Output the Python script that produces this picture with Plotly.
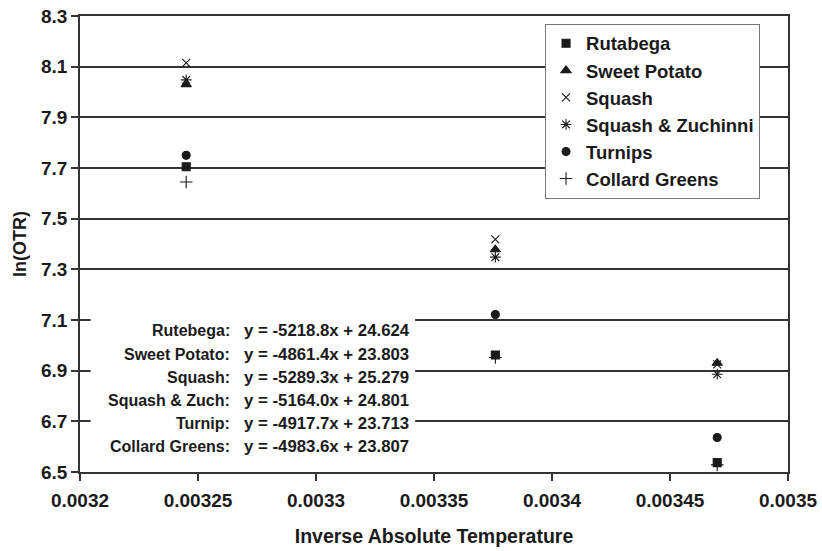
import plotly.graph_objects as go

# ---- data ----
inv_temp = [0.003245, 0.003376, 0.00347]
rutabega = [7.705, 6.962, 6.537]
sweet_potato = [8.030, 7.378, 6.930]
squash = [8.115, 7.418, 6.925]
squash_zuch = [8.048, 7.348, 6.886]
turnips = [7.750, 7.122, 6.636]
collard = [7.645, 6.952, 6.528]

series_names = ["Rutabega", "Sweet Potato", "Squash", "Squash & Zuchinni", "Turnips", "Collard Greens"]
series_vals = [rutabega, sweet_potato, squash, squash_zuch, turnips, collard]
symbols = ["square", "triangle-up", "x-thin-open", "asterisk-open", "circle", "cross-thin-open"]
sizes = [8, 9, 8, 9, 8, 9]

eq_names = ["Rutebega:", "Sweet Potato:", "Squash:", "Squash & Zuch:", "Turnip:", "Collard Greens:"]
eq_texts = ["y = -5218.8x + 24.624", "y = -4861.4x + 23.803", "y = -5289.3x + 25.279",
            "y = -5164.0x + 24.801", "y = -4917.7x + 23.713", "y = -4983.6x + 23.807"]
eq_y = [7.057, 6.964, 6.872, 6.781, 6.690, 6.599]

x_ticks = [0.0032, 0.00325, 0.0033, 0.00335, 0.0034, 0.00345, 0.0035]
x_ticklabels = ["0.0032", "0.00325", "0.0033", "0.00335", "0.0034", "0.00345", "0.0035"]
y_ticks = [6.5, 6.7, 6.9, 7.1, 7.3, 7.5, 7.7, 7.9, 8.1, 8.3]
y_ticklabels = ["6.5", "6.7", "6.9", "7.1", "7.3", "7.5", "7.7", "7.9", "8.1", "8.3"]

FONT = "Liberation Sans, Arial, Helvetica, sans-serif"
INK = "#1a1a1a"

fig = go.Figure()
for name, vals, sym, sz in zip(series_names, series_vals, symbols, sizes):
    fig.add_trace(go.Scatter(
        x=inv_temp, y=vals, mode="markers", name=name,
        marker=dict(symbol=sym, size=sz, color=INK, line=dict(color=INK, width=1.1)),
    ))

# dummy trace for overlay axis (inside ticks crossing the y axis)
fig.add_trace(go.Scatter(x=[None], y=[None], yaxis="y2", showlegend=False, hoverinfo="skip"))

# white box behind equations (covers gridlines)
fig.add_shape(type="rect", xref="x", yref="y", x0=0.0032045, x1=0.003342, y0=6.515, y1=7.125,
              fillcolor="white", line=dict(width=0), layer="between")

for nm, tx, yy in zip(eq_names, eq_texts, eq_y):
    fig.add_annotation(x=0.0032645, y=yy, xref="x", yref="y", text=nm, showarrow=False,
                       xanchor="right", yanchor="middle",
                       font=dict(family=FONT, size=16, color=INK, weight="bold"))
    fig.add_annotation(x=0.0032685, y=yy, xref="x", yref="y", text=tx, showarrow=False,
                       xanchor="left", yanchor="middle",
                       font=dict(family=FONT, size=16.8, color=INK, weight="bold"))

fig.update_layout(
    width=822, height=551,
    margin=dict(l=80, r=34, t=16, b=79),
    paper_bgcolor="white", plot_bgcolor="white",
    font=dict(family=FONT, color=INK, size=18, weight="bold"),
    showlegend=True,
    legend=dict(
        x=0.9605, y=0.983, xanchor="right", yanchor="top",
        bgcolor="white", bordercolor="#777", borderwidth=1,
        font=dict(family=FONT, size=18.5, color=INK, weight="bold"),
        itemsizing="trace", tracegroupgap=0, itemwidth=30,
    ),
    xaxis=dict(
        range=[0.0032, 0.0035], tickvals=x_ticks, ticktext=x_ticklabels,
        showgrid=False, zeroline=False, automargin=False,
        showline=True, linecolor="#333", linewidth=1.5, mirror=True,
        ticks="outside", ticklen=7, tickwidth=1.5, tickcolor="#333",
        ticklabelstandoff=3,
        tickfont=dict(family=FONT, size=19, color=INK, weight="bold"),
        title=dict(text="Inverse Absolute Temperature", standoff=20,
                   font=dict(family=FONT, size=19.5, color=INK, weight="bold")),
    ),
    yaxis=dict(
        range=[6.5, 8.3], tickvals=y_ticks, ticktext=y_ticklabels,
        showgrid=True, gridcolor="#333", gridwidth=1.5, zeroline=False, automargin=False,
        showline=True, linecolor="#333", linewidth=1.5, mirror=True,
        ticks="outside", ticklen=7, tickwidth=1.5, tickcolor="#333",
        tickfont=dict(family=FONT, size=19, color=INK, weight="bold"),
        title=dict(text="ln(OTR)", standoff=10,
                   font=dict(family=FONT, size=18, color=INK, weight="bold")),
    ),
    yaxis2=dict(
        range=[6.5, 8.3], tickvals=y_ticks, overlaying="y", side="left", automargin=False,
        showticklabels=False, showgrid=False, zeroline=False, showline=False,
        ticks="inside", ticklen=10, tickwidth=1.5, tickcolor="#333",
    ),
)

fig.write_html("out.html")
